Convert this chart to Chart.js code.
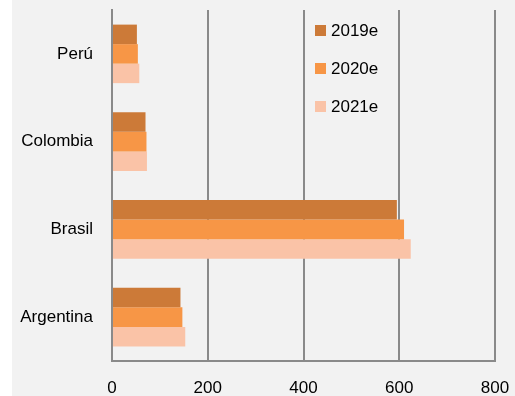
<!DOCTYPE html>
<html>
<head>
<meta charset="utf-8">
<script src="https://cdn.jsdelivr.net/npm/chart.js@4/dist/chart.umd.min.js"></script>
<style>
html,body{margin:0;padding:0;background:#fff;}
#wrap{position:absolute;left:12px;top:0;width:503px;height:396px;background:#f2f2f2;}
</style>
</head>
<body>
<div id="wrap"><canvas id="chart" width="503" height="396"></canvas></div>
<script>
/* DATA */
const countries=["Perú","Colombia","Brasil","Argentina"];
const seriesNames=["2019e","2020e","2021e"];
const v2019=[52,70,595,143];
const v2020=[54,72,610,147];
const v2021=[57,73,624,153];
const xTicks=[0,200,400,600,800];

const colors=["#cc7a38","#f79646","#fac3a7"];
const gridColor="#8a8a8a";
const font={family:"'Liberation Sans', Arial, sans-serif",size:17};

/* legend drawn inside the plot, top right */
const insideLegend={
id:"insideLegend",
afterDraw(chart){
const ctx=chart.ctx;
ctx.save();
ctx.font=font.size+"px "+font.family;
ctx.textBaseline="middle";
ctx.textAlign="left";
chart.data.datasets.forEach((ds,i)=>{
const y=30.5+i*38;
ctx.fillStyle=ds.backgroundColor;
ctx.fillRect(303,y-5.5,11,11);
ctx.fillStyle="#000";
ctx.fillText(ds.label,319,y+1);
});
ctx.restore();
}
};

new Chart(document.getElementById("chart"),{
type:"bar",
data:{
labels:countries,
datasets:[
{label:seriesNames[0],data:v2019,backgroundColor:colors[0]},
{label:seriesNames[1],data:v2020,backgroundColor:colors[1]},
{label:seriesNames[2],data:v2021,backgroundColor:colors[2]}
]
},
options:{
indexAxis:"y",
responsive:false,
animation:false,
categoryPercentage:0.667,
barPercentage:1,
layout:{padding:{top:10,right:20,left:0,bottom:0}},
plugins:{legend:{display:false},tooltip:{enabled:false}},
scales:{
x:{
min:0,max:800,
afterBuildTicks:s=>{s.ticks=xTicks.map(v=>({value:v}));},
afterFit:s=>{s.height=35;s.paddingLeft=0;s.paddingRight=0;},
grid:{color:gridColor,lineWidth:2,drawTicks:false},
border:{color:gridColor,width:2},
ticks:{color:"#000",font:font,padding:17,maxRotation:0}
},
y:{
afterFit:s=>{s.width=100;s.paddingTop=0;s.paddingBottom=0;},
grid:{display:false,drawTicks:false},
border:{color:gridColor,width:2},
ticks:{color:"#000",font:font,padding:19}
}
}
},
plugins:[insideLegend]
});
</script>
</body>
</html>
